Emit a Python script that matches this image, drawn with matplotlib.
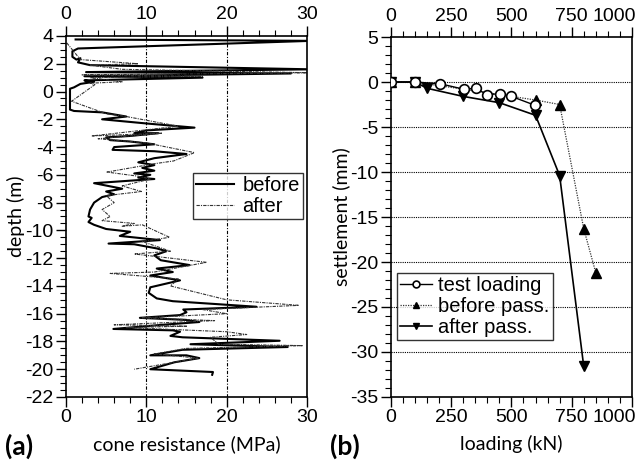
import numpy as np
import matplotlib
matplotlib.use("Agg")
import matplotlib.pyplot as plt
import matplotlib.transforms as mtransforms
from matplotlib.ticker import MultipleLocator

plt.rcParams['font.family'] = ['Liberation Sans', 'DejaVu Sans']
plt.rcParams['axes.unicode_minus'] = False

# CPT profile before compaction: (cone resistance MPa, depth m)
before_q = [1.2, 30.5, 1.5, 0.8, 0.8, 1.3, 1.8, 1.5, 3.0, 30.5, 2.5, 28.0, 2.3, 17.0,
            2.3, 3.5, 1.8, 1.0, 0.5, 0.5, 1.0, 4.5, 7.5, 4.5, 10.0, 16.0, 10.0, 8.5,
            11.5, 8.0, 5.0, 5.5, 8.0, 11.0, 6.0, 5.8, 11.0, 15.0, 11.0, 9.0, 11.0, 9.5,
            11.0, 8.5, 10.5, 9.0, 11.0, 6.0, 3.5, 7.0, 5.0, 6.0, 4.5, 3.5, 3.0, 2.8,
            3.2, 2.8, 3.5, 5.0, 8.0, 6.7, 11.7, 5.3, 8.5, 11.3, 12.5, 11.0, 11.8, 15.4,
            11.3, 13.3, 10.5, 14.2, 10.5, 10.3, 11.3, 13.3, 23.7, 14.6, 15.0, 14.2, 9.2,
            15.0, 16.6, 12.0, 5.9, 13.3, 14.2, 13.0, 14.5, 26.6, 15.5, 27.6, 14.5, 10.5,
            15.0, 16.6, 13.5, 10.5, 18.3, 18.2]
before_d = [3.75, 3.65, 3.1, 2.9, 2.5, 2.3, 2.4, 2.1, 1.9, 1.6, 1.4, 1.3, 1.1, 1.0,
            0.8, 0.7, 0.55, 0.3, 0.2, -1.3, -1.4, -1.5, -1.8, -2.0, -2.3, -2.6, -2.8, -3.0,
            -3.0, -3.2, -3.3, -3.5, -3.6, -3.8, -4.0, -4.2, -4.3, -4.5, -4.8, -5.1, -5.3, -5.5,
            -5.7, -5.9, -6.0, -6.2, -6.3, -6.5, -6.6, -7.0, -7.2, -7.4, -7.6, -8.0, -8.5, -9.0,
            -9.1, -9.4, -9.6, -9.9, -10.1, -10.4, -10.7, -10.95, -11.0, -11.3, -11.5, -11.8, -12.15, -12.5,
            -12.75, -13.0, -13.25, -13.6, -14.1, -14.5, -14.9, -15.1, -15.5, -15.7, -15.9, -16.1, -16.3,
            -16.45, -16.6, -16.8, -17.1, -17.2, -17.3, -17.6, -17.7, -17.95, -18.2, -18.4, -18.6, -19.0,
            -19.0, -19.2, -19.5, -20.0, -20.2, -20.4]

# CPT profile after compaction
after_q = [0.1, 1.8, 9.0, 3.0, 7.0, 30.5, 2.0, 17.0, 3.0, 7.0, 3.0, 3.6, 0.7, 5.0, 7.5,
           14.0, 3.2, 12.0, 4.0, 10.0, 16.0, 13.4, 11.0, 5.1, 9.0, 10.5, 7.0, 9.4, 5.0, 6.0,
           4.5, 5.5, 4.5, 8.5, 7.0, 9.5, 12.9, 9.5, 13.0, 8.5, 17.5, 11.0, 5.5, 14.0, 13.0,
           20.0, 29.0, 17.0, 20.0, 9.5, 18.5, 6.0, 15.0, 7.5, 20.0, 22.5, 18.0, 19.0, 29.5,
           15.0, 11.0, 16.5, 8.5]
after_d = [3.5, 2.3, 2.0, 1.9, 1.6, 1.35, 1.2, 1.1, 1.0, 0.7, 0.6, 0.5, -0.7, -1.6, -1.8,
           -2.5, -3.2, -3.0, -3.4, -3.7, -4.4, -5.0, -5.2, -5.8, -6.1, -6.3, -6.8, -7.2, -7.5, -8.0,
           -8.5, -9.0, -9.3, -9.5, -9.7, -9.6, -10.5, -10.8, -11.5, -11.7, -12.3, -13.0, -13.1, -13.5, -14.0,
           -15.0, -15.4, -15.7, -16.0, -16.3, -16.5, -16.8, -16.9, -17.0, -17.3, -17.5, -17.7, -18.2, -18.3,
           -18.5, -18.9, -19.2, -20.0]

# load test results: loading (kN) vs settlement (mm)
test_load = [0, 100, 205, 302, 353, 398, 451, 500, 599]
test_settle = [0, 0, -0.2, -0.8, -0.7, -1.4, -1.3, -1.6, -2.6]
before_load = [0, 100, 600, 700, 800, 850]
before_settle = [0, 0, -2.0, -2.5, -16.3, -21.2]
after_load = [0, 100, 150, 300, 450, 600, 700, 800]
after_settle = [0, 0, -0.7, -1.6, -2.3, -3.7, -10.4, -31.6]

label_font = ['Lato', 'DejaVu Sans']

fig = plt.figure(figsize=(6.43, 4.62), dpi=100)
ax1 = fig.add_axes([0.1026, 0.1407, 0.3748, 0.7814])
ax2 = fig.add_axes([0.608, 0.1407, 0.3748, 0.7792])

# (a) cone resistance
ax1.plot(before_q, before_d, color='black', lw=1.5, label='before')
ax1.plot(after_q, after_d, color='#333333', lw=0.8, ls=(0, (3, 1, 1, 1)), label='after')
for xv in [10, 20]:
    ax1.axvline(xv, color='black', lw=0.8, ls=(0, (3, 1.5, 1, 1.5)), zorder=0)
ax1.set_xlim(0, 30)
ax1.set_ylim(-22, 4)
ax1.xaxis.set_major_locator(MultipleLocator(10))
ax1.xaxis.set_minor_locator(MultipleLocator(2))
ax1.yaxis.set_major_locator(MultipleLocator(2))
ax1.yaxis.set_minor_locator(MultipleLocator(0.5))
ax1.set_xlabel('cone resistance (MPa)', fontsize=14, family=label_font, labelpad=6)
ax1.set_ylabel('depth (m)', fontsize=14, family=label_font, labelpad=0)
ax1.legend(loc='upper right', bbox_to_anchor=(0.983, 0.62), fontsize=14.5, frameon=True,
           fancybox=False, edgecolor='black', handlelength=1.9, borderpad=0.15,
           labelspacing=0.1, handletextpad=0.4, borderaxespad=0.0)

# (b) load test
ax2.plot(test_load, test_settle, color='black', lw=1.0, marker='o', mfc='white',
         mec='black', ms=7, mew=1.2, label='test loading', zorder=3)
ax2.plot(before_load, before_settle, color='#333333', lw=0.9, ls=(0, (1, 1)),
         marker='^', mfc='black', mec='black', ms=7, label='before pass.', zorder=2)
ax2.plot(after_load, after_settle, color='black', lw=1.2, marker='v', mfc='black',
         mec='black', ms=7, label='after pass.', zorder=2)
for yv in [0, -5, -10, -15, -20, -25, -30]:
    ax2.axhline(yv, color='black', lw=0.8, ls=(0, (1, 1)), zorder=0)
ax2.set_xlim(0, 1000)
ax2.set_ylim(-35, 5)
ax2.xaxis.set_major_locator(MultipleLocator(250))
ax2.xaxis.set_minor_locator(MultipleLocator(50))
ax2.yaxis.set_major_locator(MultipleLocator(5))
ax2.yaxis.set_minor_locator(MultipleLocator(1))
ax2.set_xlabel('loading (kN)', fontsize=14, family=label_font, labelpad=6)
ax2.set_ylabel('settlement (mm)', fontsize=14, family=label_font, labelpad=0)
ax2.legend(loc='upper left', bbox_to_anchor=(0.025, 0.344), fontsize=14.5, frameon=True,
           fancybox=False, edgecolor='black', handlelength=1.6, borderpad=0.15,
           labelspacing=0.1, handletextpad=0.3, markerscale=0.7, borderaxespad=0.0)

for ax in (ax1, ax2):
    ax.tick_params(which='both', direction='out', top=True, labeltop=True,
                   right=False, labelsize=14, pad=2)
    ax.tick_params(which='major', length=7, width=1.0)
    ax.tick_params(which='minor', length=4, width=0.8)
    for sp in ax.spines.values():
        sp.set_linewidth(1.2)

fig.text(0.008, 0.015, '(a)', fontsize=19, fontweight='bold', family=label_font)
fig.text(0.513, 0.015, '(b)', fontsize=19, fontweight='bold', family=label_font)

# keep the last loading label inside the figure (ticks exist only after a draw)
fig.canvas.draw()
shift = mtransforms.ScaledTranslation(4 / 100, 0, fig.dpi_scale_trans)
for tick in ax2.xaxis.get_major_ticks():
    if abs(tick.get_loc() - 1000) < 1e-6:
        for lab in (tick.label1, tick.label2):
            lab.set_horizontalalignment('right')
            lab.set_transform(lab.get_transform() + shift)

fig.savefig('out.png', dpi=100)
